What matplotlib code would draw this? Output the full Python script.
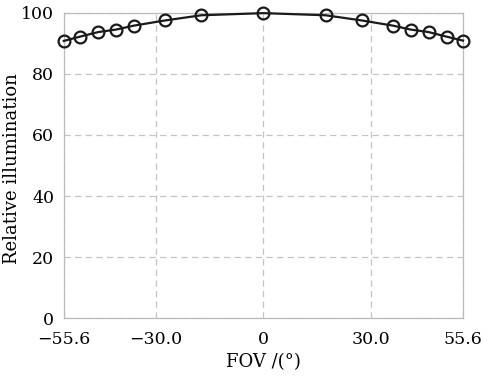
import matplotlib
matplotlib.use("Agg")
import matplotlib.pyplot as plt

plt.rcParams["font.family"] = ["DejaVu Serif"]

fov = [-55.6, -51.1, -46.0, -41.1, -36.1, -27.4, -17.3, 0.0,
       17.3, 27.4, 36.1, 41.1, 46.0, 51.0, 55.6]
illum = [90.8, 92.2, 93.7, 94.5, 95.8, 97.5, 99.2, 99.9,
         99.2, 97.5, 95.8, 94.5, 93.7, 92.2, 90.9]
xticks = [-55.6, -30.0, 0, 30.0, 55.6]
xticklabels = ["\u221255.6", "\u221230.0", "0", "30.0", "55.6"]
yticks = [0, 20, 40, 60, 80, 100]

fig = plt.figure(figsize=(4.91, 3.77), dpi=100)
ax = fig.add_axes([0.130, 0.156, 0.813, 0.810])
ax.plot(fov, illum, color="#1a1a1a", lw=1.6, marker="o", ms=8.5,
        mfc="none", mec="#1a1a1a", mew=1.6, clip_on=False, zorder=3)
ax.set_xlim(-55.6, 55.6)
ax.set_ylim(0, 100)
ax.set_xticks(xticks)
ax.set_xticklabels(xticklabels)
ax.set_yticks(yticks)
ax.tick_params(length=0, labelsize=12.5)
ax.tick_params(axis="x", pad=9)
ax.tick_params(axis="y", pad=7)
ax.grid(True, color="#c4c4c4", ls=(0, (5, 3.5)), lw=0.9)
for s in ax.spines.values():
    s.set_color("#bbbbbb")
    s.set_linewidth(0.9)
ax.set_xlabel("FOV /(°)", fontsize=13)
ax.set_ylabel("Relative illumination", fontsize=13)
ax.xaxis.set_label_coords(0.5, -0.115)
ax.yaxis.set_label_coords(-0.108, 0.49)
fig.savefig("out.png", dpi=100)
